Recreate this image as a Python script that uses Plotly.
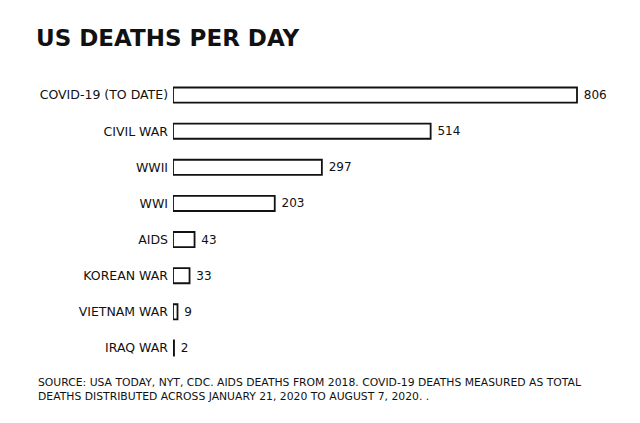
import plotly.graph_objects as go

categories = ["COVID-19 (TO DATE)", "CIVIL WAR", "WWII", "WWI", "AIDS",
              "KOREAN WAR", "VIETNAM WAR", "IRAQ WAR"]
deaths_per_day = [806, 514, 297, 203, 43, 33, 9, 2]

title_text = "US DEATHS PER DAY"
source_text = ("SOURCE: USA TODAY, NYT, CDC. AIDS DEATHS FROM 2018. COVID-19 DEATHS MEASURED AS TOTAL<br>"
               "DEATHS DISTRIBUTED ACROSS JANUARY 21, 2020 TO AUGUST 7, 2020. .")

W, H = 640, 423
ml, mr, mt, mb = 173, 23, 77, 57
pw = W - ml - mr

font_family = "DejaVu Sans, sans-serif"

fig = go.Figure(go.Bar(
    x=deaths_per_day,
    y=categories,
    orientation="h",
    width=0.42,
    marker=dict(color="white", line=dict(color="#111", width=1.8)),
    text=[" " + str(v) for v in deaths_per_day],
    textposition="outside",
    cliponaxis=False,
    textfont=dict(family=font_family, size=12, color="#111"),
))

fig.update_layout(
    width=W, height=H,
    margin=dict(l=ml, r=mr, t=mt, b=mb),
    paper_bgcolor="white",
    plot_bgcolor="white",
    showlegend=False,
    title=dict(text="<b>" + title_text + "</b>", x=36 / W, xanchor="left",
               y=1 - 38 / H, yanchor="middle", xref="container", yref="container",
               font=dict(family=font_family, size=23, color="#111")),
    xaxis=dict(range=[0, 806 * pw / 404], visible=False, fixedrange=True),
    yaxis=dict(autorange="reversed", showgrid=False, zeroline=False, showline=False,
               ticks="", ticksuffix=" ",
               tickfont=dict(family=font_family, size=12.5, color="#111")),
    bargap=0.5,
    annotations=[dict(
        text=source_text, xref="paper", yref="paper",
        x=(36 - ml) / pw, xanchor="left",
        y=-(381 - 7 - (H - mb)) / (H - mt - mb), yanchor="top",
        align="left", showarrow=False,
        font=dict(family=font_family, size=10.8, color="#111"),
    )],
)

fig.write_html("out.html")
